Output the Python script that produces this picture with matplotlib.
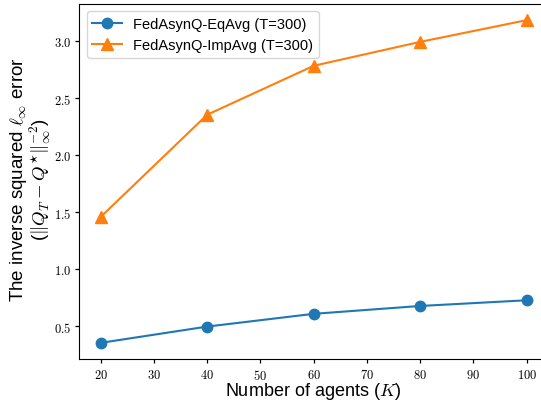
import matplotlib
matplotlib.use("Agg")
import matplotlib.pyplot as plt
from matplotlib.ticker import FuncFormatter, MultipleLocator

plt.rcParams['font.family'] = ['Liberation Sans', 'DejaVu Sans']
plt.rcParams['mathtext.fontset'] = 'cm'

agents = [20, 40, 60, 80, 100]
eqavg = [0.352, 0.495, 0.607, 0.676, 0.726]
impavg = [1.457, 2.355, 2.785, 2.995, 3.186]
labels = ["FedAsynQ-EqAvg (T=300)", "FedAsynQ-ImpAvg (T=300)"]
xlabel = "Number of agents ($K$)"
ylabel = "The inverse squared $\\ell_\\infty$ error\n($\\|Q_T - Q^{\\star}\\|_\\infty^{-2}$)"

W, H = 541, 402
fig = plt.figure(figsize=(W/100, H/100), dpi=100)
ax = fig.add_axes([79.3/W, 42/H, (548-79.3)/W, 355/H])

ax.plot(agents, eqavg, marker='o', color='#1f77b4', lw=1.5, markersize=7.5, label=labels[0])
ax.plot(agents, impavg, marker='^', color='#ff7f0e', lw=1.5, markersize=8, label=labels[1])

ax.xaxis.set_major_locator(MultipleLocator(10))
ax.yaxis.set_major_locator(MultipleLocator(0.5))
ax.xaxis.set_major_formatter(FuncFormatter(lambda v, p: f"${v:.0f}$"))
ax.yaxis.set_major_formatter(FuncFormatter(lambda v, p: f"${v:.1f}$"))
ax.tick_params(labelsize=9, length=3, width=0.9)
ax.tick_params(axis='x', pad=3.5)
ax.tick_params(axis='y', pad=2.5)

fig.text(313.5/W, 1 - 396.5/H, xlabel, fontsize=13, ha='center', va='baseline')
fig.text(30.5/W, 1 - 180/H, ylabel, fontsize=13.5, ha='center', va='center',
         rotation=90, multialignment='center', linespacing=0.95)
ax.legend(loc='upper left', fontsize=10.5)

fig.savefig("out.png", dpi=100)
